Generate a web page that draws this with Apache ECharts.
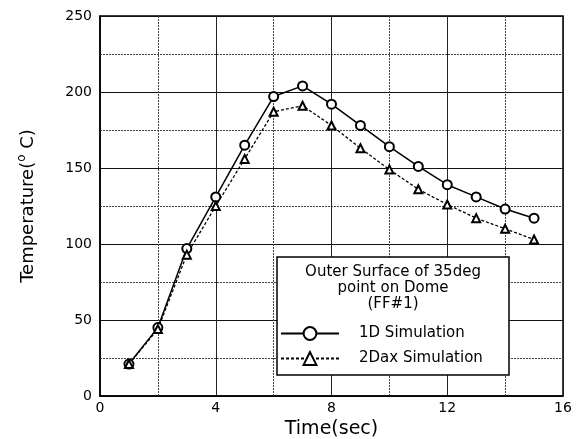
<!DOCTYPE html>
<html>
<head>
<meta charset="utf-8">
<script src="https://cdn.jsdelivr.net/npm/echarts@6/dist/echarts.min.js"></script>
<style>
    html, body { margin: 0; padding: 0; background: #fff; }
    #chart { width: 586px; height: 439px; }
</style>
</head>
<body>
<div id="chart"></div>
<script>
// time (sec)
var timeSec = [1, 2, 3, 4, 5, 6, 7, 8, 9, 10, 11, 12, 13, 14, 15];
// 1D Simulation temperature
var sim1D = [21, 45, 97, 131, 165, 197, 204, 192, 178, 164, 151, 139, 131, 123, 117];
// 2Dax Simulation temperature
var sim2Dax = [21, 44, 93, 125, 156, 187, 191, 178, 163, 149, 136, 126, 117, 110, 103];

var legendTitle = ["Outer Surface of 35deg", "point on Dome", "(FF#1)"];

function pairs(xs, ys) {
    var out = [];
    for (var i = 0; i < xs.length; i++) {
        out.push([xs[i], ys[i]]);
    }
    return out;
}

var font = "DejaVu Sans";
var chart = echarts.init(document.getElementById("chart"));

var option = {
    backgroundColor: "#fff",
    animation: false,
    grid: {
        left: 100, right: 23, top: 16, bottom: 43,
        outerBoundsMode: "none",
        containLabel: false,
        show: true,
        borderColor: "#000",
        borderWidth: 1.5
    },
    xAxis: {
        type: "value",
        min: 0, max: 16, interval: 4,
        name: "Time(sec)",
        nameLocation: "middle",
        nameGap: 23,
        nameTextStyle: { fontFamily: font, fontSize: 19, color: "#000" },
        axisLine: { show: true, lineStyle: { color: "#000", width: 1.5 } },
        axisTick: { show: false },
        axisLabel: { fontFamily: font, fontSize: 14, color: "#000", margin: 5 },
        splitLine: { show: true, lineStyle: { color: "#222", width: 1 } },
        minorTick: { show: false, splitNumber: 2 },
        minorSplitLine: { show: true, lineStyle: { color: "#444", width: 1, type: [2, 1] } }
    },
    yAxis: {
        type: "value",
        min: 0, max: 250, interval: 50,
        name: "{n|Temperature(}{s|o}{n| C)}",
        nameLocation: "middle",
        nameGap: 60,
        nameTextStyle: {
            rich: {
                n: { fontFamily: font, fontSize: 18, color: "#000" },
                s: { fontFamily: font, fontSize: 12, color: "#000", verticalAlign: "top", padding: [0, 0, 12, 0] }
            }
        },
        axisLine: { show: true, lineStyle: { color: "#000", width: 1.5 } },
        axisTick: { show: false },
        axisLabel: { fontFamily: font, fontSize: 14, color: "#000", margin: 8 },
        splitLine: { show: true, lineStyle: { color: "#111", width: 1.2 } },
        minorTick: { show: false, splitNumber: 2 },
        minorSplitLine: { show: true, lineStyle: { color: "#444", width: 1, type: [2, 1] } }
    },
    legend: {
        left: 280,
        top: 326,
        padding: 0,
        orient: "vertical",
        itemWidth: 58,
        itemHeight: 16,
        itemGap: 10,
        textStyle: { fontFamily: font, fontSize: 15, color: "#000", padding: [0, 0, 0, 15] },
        data: ["1D Simulation", "2Dax Simulation"]
    },
    graphic: [
        {
            type: "rect",
            shape: { x: 277, y: 257, width: 232, height: 118 },
            style: { fill: "#fff", stroke: "#000", lineWidth: 1.5 },
            z: 4
        },
        {
            type: "text",
            left: 283, top: 264,
            style: {
                text: legendTitle.join("\n"),
                width: 220,
                align: "center",
                textAlign: "center",
                x: 110,
                font: "15px " + font,
                lineHeight: 16,
                fill: "#000"
            },
            z: 5
        }
    ],
    series: [
        {
            name: "1D Simulation",
            type: "line",
            data: pairs(timeSec, sim1D),
            symbol: "emptyCircle",
            symbolSize: 9,
            lineStyle: { color: "#000", width: 1.5 },
            itemStyle: { color: "#000", borderWidth: 1.3 },
            z: 3
        },
        {
            name: "2Dax Simulation",
            type: "line",
            data: pairs(timeSec, sim2Dax),
            symbol: "emptyTriangle",
            symbolSize: 8,
            lineStyle: { color: "#000", width: 1.3, type: [3, 2] },
            itemStyle: { color: "#000", borderWidth: 1.3 },
            z: 3
        }
    ]
};

chart.setOption(option);
</script>
</body>
</html>
